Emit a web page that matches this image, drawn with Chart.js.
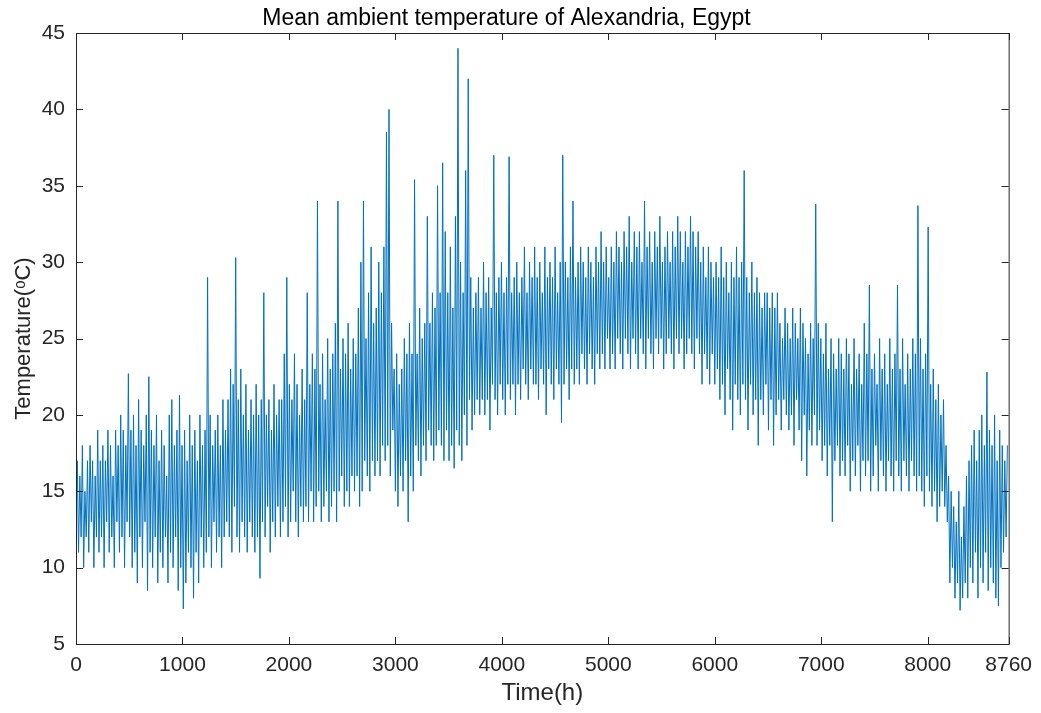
<!DOCTYPE html>
<html>
<head>
<meta charset="utf-8">
<script src="https://cdn.jsdelivr.net/npm/chart.js@4.4.1/dist/chart.umd.min.js"></script>
<style>
  html, body { margin: 0; padding: 0; background: #fff; }
  #wrap { width: 1041px; height: 713px; }
</style>
</head>
<body>
<div id="wrap"><canvas id="myChart" width="1041" height="713"></canvas></div>
<script>
// one low / one high reading per day (12 h apart)
var temps = [
  13,17, 11,16, 12,18, 10,15, 12,17, 11,18, 13,17, 10,16, 12,19, 11,17,
  12,18, 10,17, 13,19, 11,18, 12,16, 10,19, 13,18, 11,20, 12,19, 10,18,
  13,22.7, 12,19, 10,20, 11,18, 9,21, 12,19, 10,18, 13,20, 8.5,22.5, 11,19,
  10,18, 12,20, 9,17, 11,19, 10,18, 12,16, 9,20, 11,21, 10,18, 12,19,
  8.5,21.3, 10,18, 7.3,19, 9,17, 11,20, 10,18, 8,19, 11,17, 9,20, 12,18,
  10,19, 11,29, 12,20, 10,18, 13,19, 11,20, 12,18, 10,21, 12,19, 13,21,
  12,23, 11,22, 14,30.3, 12,21, 11,23, 13,20, 12,22, 11,19, 13,21, 12,20,
  11,22, 12,20, 9.3,21, 13,28, 12,20, 14,21, 11,19, 13,22, 12,20, 14,21,
  12,21, 13,24, 14,29, 12,22, 13,21, 15,24, 13,22, 12,20, 14,23, 13,21,
  14,28, 13,22, 15,24, 13,23, 14,34, 15,22, 13,24, 14,21, 15,25, 13,23,
  14,24, 15,26, 13,34, 15,23, 16,25, 14,24, 15,26, 14,23, 16,25, 15,24,
  16,27, 14,30, 15,34, 17,25, 16,28, 15,31, 17,26, 16,27, 17,30, 16,28,
  18,31, 17,38.5, 18,40, 16,26, 19,23, 15,24, 14,22, 16,23, 15,25, 17,24,
  13,26, 16,24, 15,35.4, 18,24, 17,27, 16,25, 18,26, 17,33, 19,26, 18,28,
  17,27, 18,35, 19,28, 18,36.5, 17,32, 19,28, 17,31, 18,27, 16.5,33, 19,44,
  18,30, 17,28, 20,36, 18,42, 21,29, 19,27, 20,28, 21,29, 20,27, 21,30,
  20,28, 21,29, 19,27, 22,37, 21,28, 20,29, 22,30, 21,28, 20,29, 22,36.9,
  21,28, 22,29, 20,30, 22,28, 21,29, 23,31, 22,28, 21,30, 23,29, 22,31,
  22,29, 21,30, 23,28, 22,31, 20,29, 23,30, 22,29, 21,31, 23,28, 22,30,
  19.5,37, 22,30, 23,29, 21,31, 23,34, 22,29, 23,30, 22,31, 24,30, 23,29,
  22,31, 24,30, 23,29, 22,31, 24,30, 23,32, 24,30, 23,31, 25,29, 23,31,
  24,30, 23,32, 25,31, 24,30, 23,32, 25,31, 24,33, 23,30, 25,32, 24,31,
  23,32, 25,30, 24,34, 23,31, 25,32, 24,30, 23,32, 25,31, 24,33, 25,30,
  23,31, 24,32, 25,30, 24,32, 23,31, 25,33, 24,32, 25,30, 23,32, 24,31,
  25,33, 24,32, 23,31, 25,32, 24,30, 22,31, 24,29, 23,31, 22,30, 24,29,
  22,30, 23,29, 21,31, 22,29, 20,30, 23,28, 21,30, 19,29, 22,31, 21,29,
  20,30, 22,36, 21,29, 19,28, 22,30, 20,28, 21,29, 18,28, 21,27, 20,28,
  22,28, 19,27, 21,28, 18,27, 20,28, 21,26, 19,25, 21,27, 20,26, 19,25,
  20,27, 18,26, 21,25, 19,27, 17,26, 20,25, 16,24, 19,26, 18,25, 20,33.8,
  18,26, 19,25, 17,24, 18,26, 16,23, 18,25, 13,24, 17,23, 18,25, 16,24,
  17,23, 16,25, 18,24, 15,22, 17,25, 16,23, 18,24, 15,22, 17,26, 16,24,
  17,28.5, 15,23, 16,24, 18,22, 15,25, 17,23, 16,24, 15,22, 17,25, 16,23,
  15,24, 17,28.5, 16,23, 15,25, 17,22, 16,24, 15,23, 17,25, 16,24, 15,33.7,
  16,25, 15,23, 14,24, 16,32.3, 15,22, 14,23, 15,21, 13,22, 14,20, 15,21,
  14,18, 13,16, 9,15, 10,14, 8,13, 9,15, 7.2,12, 8,14, 9,16, 8,17,
  10,18, 9,19, 11,17, 8,19, 10,20, 9,18, 11,22.8, 8.5,19, 10,18, 9,20,
  8,17, 7.5,19, 10,18, 11,17, 12,18
];
var stepHours = 12;
var xTicks = [0, 1000, 2000, 3000, 4000, 5000, 6000, 7000, 8000, 8760];
var yTicks = [5, 10, 15, 20, 25, 30, 35, 40, 45];

var points = temps.map(function(v, i) { return { x: i * stepHours, y: v }; });

var axisColor = "#262626";

// MATLAB style box with inward tick marks
var boxPlugin = {
  id: "box",
  afterDraw: function(chart) {
    var c = chart.ctx, a = chart.chartArea;
    var xs = chart.scales.x, ys = chart.scales.y;
    var len = 7;
    c.save();
    c.strokeStyle = axisColor;
    c.lineWidth = 1;
    c.strokeRect(a.left + 0.5, a.top + 0.5, a.right - a.left, a.bottom - a.top);
    c.beginPath();
    xTicks.forEach(function(t) {
      var px = Math.round(xs.getPixelForValue(t)) + 0.5;
      c.moveTo(px, a.bottom); c.lineTo(px, a.bottom - len);
      c.moveTo(px, a.top); c.lineTo(px, a.top + len);
    });
    yTicks.forEach(function(t) {
      var py = Math.round(ys.getPixelForValue(t)) + 0.5;
      c.moveTo(a.left, py); c.lineTo(a.left + len, py);
      c.moveTo(a.right, py); c.lineTo(a.right - len, py);
    });
    c.stroke();
    c.restore();
  }
};

function plain(v) { return String(v); }

window.onload = function() {
  Chart.defaults.font.family = "'Liberation Sans', Arial, sans-serif";
  Chart.defaults.color = axisColor;

  var ctx = document.getElementById("myChart").getContext("2d");
  new Chart(ctx, {
    type: "line",
    data: {
      datasets: [{
        data: points,
        borderColor: "#0072BD",
        borderWidth: 1,
        pointRadius: 0,
        fill: false,
        tension: 0
      }]
    },
    options: {
      responsive: false,
      animation: false,
      parsing: false,
      layout: { padding: { left: 0, right: 28, top: 0, bottom: 0 } },
      plugins: {
        legend: { display: false },
        tooltip: { enabled: false },
        title: {
          display: true,
          text: "Mean ambient temperature of Alexandria, Egypt",
          font: { size: 23, weight: "normal" },
          color: "#000",
          padding: { top: 4.5, bottom: 0.9 }
        }
      },
      scales: {
        x: {
          type: "linear",
          min: 0,
          max: 8760,
          afterBuildTicks: function(axis) {
            axis.ticks = xTicks.map(function(v) { return { value: v }; });
          },
          afterFit: function(axis) { axis.height = 69; },
          grid: { display: false, drawTicks: false },
          border: { display: false },
          ticks: { font: { size: 21 }, padding: 9, maxRotation: 0, autoSkip: false, callback: plain },
          title: { display: true, text: "Time(h)", font: { size: 24 }, padding: { top: 0, bottom: 5 } }
        },
        y: {
          min: 5,
          max: 45,
          afterBuildTicks: function(axis) {
            axis.ticks = yTicks.map(function(v) { return { value: v }; });
          },
          afterFit: function(axis) { axis.width = 76; },
          grid: { display: false, drawTicks: false },
          border: { display: false },
          ticks: { font: { size: 21 }, padding: 11, callback: plain },
          title: { display: true, text: "Temperature(\u1D52C)", font: { size: 22 }, padding: { top: 11, bottom: 0 } }
        }
      }
    },
    plugins: [boxPlugin]
  });
};
</script>
</body>
</html>
